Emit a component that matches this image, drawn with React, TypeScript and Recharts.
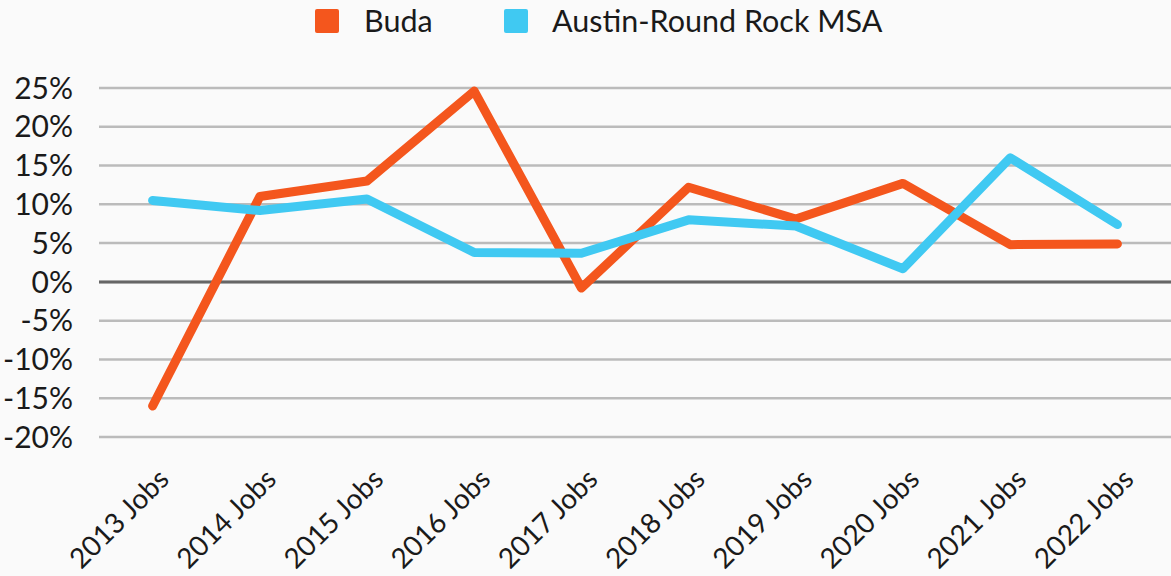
import React from 'react';
import { LineChart, Line, XAxis, YAxis, CartesianGrid, ReferenceLine, Legend } from 'recharts';

const categories = ['2013 Jobs', '2014 Jobs', '2015 Jobs', '2016 Jobs', '2017 Jobs', '2018 Jobs', '2019 Jobs', '2020 Jobs', '2021 Jobs', '2022 Jobs'];
const budaValues = [-16.0, 11.0, 13.0, 24.6, -0.8, 12.2, 8.1, 12.7, 4.8, 4.9];
const austinValues = [10.5, 9.2, 10.7, 3.8, 3.7, 8.0, 7.2, 1.7, 16.0, 7.4];
const yTicks = [-20, -15, -10, -5, 0, 5, 10, 15, 20, 25];

const seriesNames = { buda: 'Buda', austin: 'Austin-Round Rock MSA' };
const ORANGE = '#F4561D';
const BLUE = '#40C9F2';
const FONT = 'Lato, "Open Sans", sans-serif';

const data = categories.map((name, i) => ({ name, buda: budaValues[i], austin: austinValues[i] }));

const XTick = (props: any) => {
  const { x, y, payload } = props;
  const px = x + 18;
  const py = y + 44;
  return (
    <text
      x={px}
      y={py}
      transform={`rotate(-45, ${px}, ${py})`}
      textAnchor="end"
      fill="#1a1a1a"
      fontSize={28}
      fontFamily={FONT}
    >
      {payload.value}
    </text>
  );
};

const LegendContent = () => (
  <svg width={1171} height={40} style={{ display: 'block' }}>
    <rect x={315} y={9} width={24} height={24} rx={2} fill={ORANGE} />
    <text x={364} y={32} fontSize={30.5} fontFamily={FONT} fill="#1a1a1a">{seriesNames.buda}</text>
    <rect x={504} y={9} width={24} height={24} rx={2} fill={BLUE} />
    <text x={552} y={32} fontSize={30.5} fontFamily={FONT} fill="#1a1a1a">{seriesNames.austin}</text>
  </svg>
);

export default function App() {
  return (
    <div style={{ position: 'absolute', left: 0, top: 0, width: 1171, height: 576, background: '#fafafa', overflow: 'hidden' }}>
      <LineChart width={1171} height={576} data={data} margin={{ top: 48, right: 0, bottom: 0, left: 0 }}>
        <Legend verticalAlign="top" content={<LegendContent />} wrapperStyle={{ top: 0, left: 0, width: 1171, height: 40 }} />
        <CartesianGrid horizontal vertical={false} stroke="#bbbbbb" strokeWidth={2.5} />
        <XAxis
          dataKey="name"
          axisLine={false}
          tickLine={false}
          interval={0}
          height={139}
          tickSize={0}
          tickMargin={0}
          padding={{ left: 53.6, right: 53.6 }}
          tick={<XTick />}
        />
        <YAxis
          domain={[-20, 25]}
          ticks={yTicks}
          interval={0}
          width={99}
          axisLine={false}
          tickLine={false}
          tickSize={0}
          tickMargin={26}
          tickFormatter={(v: number) => `${v}%`}
          tick={{ fill: '#1a1a1a', fontSize: 30, fontFamily: FONT }}
        />
        <ReferenceLine y={0} stroke="#666666" strokeWidth={3} />
        <Line dataKey="buda" name={seriesNames.buda} stroke={ORANGE} strokeWidth={9} dot={false} isAnimationActive={false} strokeLinecap="round" strokeLinejoin="round" />
        <Line dataKey="austin" name={seriesNames.austin} stroke={BLUE} strokeWidth={9} dot={false} isAnimationActive={false} strokeLinecap="round" strokeLinejoin="round" />
      </LineChart>
    </div>
  );
}
